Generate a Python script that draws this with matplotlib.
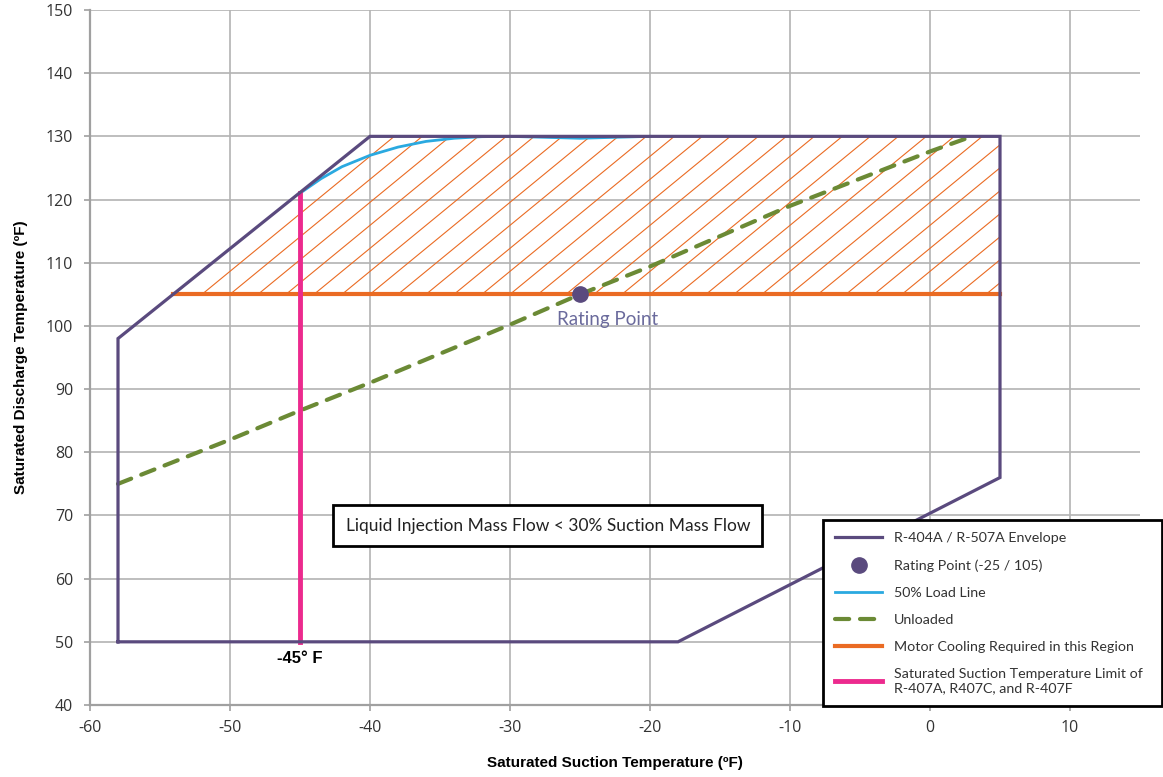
import numpy as np
import matplotlib
matplotlib.use('Agg')
from matplotlib import pyplot as plt
from matplotlib.patches import Polygon

plt.rcParams['axes.unicode_minus'] = False

# envelope of R-404A / R-507A (closed polygon)
env_x = [-58, -58, -40, 5, 5, -18, -58]
env_y = [50, 98, 130, 130, 76, 50, 50]

# rating point
rating_x, rating_y = -25, 105

# 50% load line
load_x = [-45, -43.5, -42, -40, -38, -36, -34, -32, -30, -25, -20]
load_y = [121, 123.3, 125.2, 127.0, 128.3, 129.2, 129.7, 129.95, 130, 129.7, 130]

# unloaded curve
unl_x = [-58, -50, -45, -40, -30, -25, -20, -10, 0, 3]
unl_y = [75, 82.0, 86.6, 91, 100.2, 105, 109.4, 119, 127.6, 130]

# motor cooling region lower bound and suction limit
motor_y = 105
limit_x = -45

xticks = [-60, -50, -40, -30, -20, -10, 0, 10]
yticks = [40, 50, 60, 70, 80, 90, 100, 110, 120, 130, 140, 150]

c_env = '#5a4a7e'
c_load = '#2aa9e0'
c_unl = '#6b8a35'
c_orange = '#ea6b23'
c_pink = '#ec2a8e'
c_grid = '#b3b3b3'

tick_font = 'Open Sans'
lab_font = 'Lato'

fig = plt.figure(figsize=(11.63, 7.77), dpi=100)
ax = fig.add_axes([90/1163, 1-705/777, 1050/1163, 695/777])
ax.set_xlim(-60, 15)
ax.set_ylim(40, 150)
ax.set_xticks(xticks)
ax.set_yticks(yticks)
ax.grid(True, color=c_grid, lw=1.2, zorder=0)
for s in ['top', 'right']:
    ax.spines[s].set_visible(False)
for s in ['left', 'bottom']:
    ax.spines[s].set_color('#a0a0a0')
    ax.spines[s].set_linewidth(1.6)
ax.tick_params(colors='#a0a0a0', length=4, width=1.2, labelcolor='#333333', labelsize=11.5)
ax.tick_params(axis='y', pad=8)
ax.tick_params(axis='x', pad=7)
for lab in ax.get_xticklabels() + ax.get_yticklabels():
    lab.set_family(tick_font)

# where the left diagonal of the envelope crosses the motor line / the suction limit
x_left = env_x[1] + (motor_y - env_y[1]) * (env_x[2] - env_x[1]) / (env_y[2] - env_y[1])
y_limit_top = env_y[1] + (limit_x - env_x[1]) * (env_y[2] - env_y[1]) / (env_x[2] - env_x[1])

# hatched motor cooling region
region = Polygon([(x_left, motor_y), (env_x[2], env_y[2]), (env_x[3], env_y[3]), (env_x[3], motor_y)],
                 closed=True, facecolor='none', edgecolor='none')
ax.add_patch(region)
slope = 1.82
for x0 in np.arange(-70, 10, 2.0):
    hl, = ax.plot([x0, x0 + 30], [motor_y, motor_y + 30 * slope], color=c_orange, lw=0.8, zorder=2)
    hl.set_clip_path(region)

ax.plot([x_left, env_x[3]], [motor_y, motor_y], color=c_orange, lw=3, zorder=3,
        label='Motor Cooling Required in this Region')

ax.plot(unl_x, unl_y, color=c_unl, lw=3, dashes=(3.4, 2.6), dash_capstyle='round', zorder=4,
        label='Unloaded')
ax.plot(load_x, load_y, color=c_load, lw=2, zorder=5, label='50% Load Line')
ax.plot([limit_x, limit_x], [env_y[0], y_limit_top], color=c_pink, lw=3.5, zorder=5,
        label='Saturated Suction Temperature Limit of\nR-407A, R407C, and R-407F')
ax.plot(env_x, env_y, color=c_env, lw=2.3, zorder=6, solid_joinstyle='miter',
        label='R-404A / R-507A Envelope')
ax.plot([rating_x], [rating_y], 'o', color=c_env, ms=11, zorder=7, lw=0,
        label='Rating Point (-25 / 105)')

ax.text(-23, 101, 'Rating Point', color='#6a6a9c', fontsize=13.5, family=lab_font,
        ha='center', va='center', zorder=8)
ax.text(limit_x, 47.3, '-45° F', fontsize=12, fontweight='bold', family='Liberation Sans',
        ha='center', va='center', zorder=8)
ax.text(-27.3, 68.4, 'Liquid Injection Mass Flow < 30% Suction Mass Flow', fontsize=12.5,
        family=lab_font, color='#222222', ha='center', va='center', zorder=8,
        bbox=dict(boxstyle='square,pad=0.7', fc='white', ec='black', lw=2))

ax.set_xlabel('Saturated Suction Temperature (ºF)', fontsize=11, fontweight='bold',
              family='Liberation Sans', labelpad=14)
ax.set_ylabel('Saturated Discharge Temperature (ºF)', fontsize=11, fontweight='bold',
              family='Liberation Sans', labelpad=13)

handles, labels = ax.get_legend_handles_labels()
order = ['R-404A / R-507A Envelope', 'Rating Point (-25 / 105)', '50% Load Line', 'Unloaded',
         'Motor Cooling Required in this Region',
         'Saturated Suction Temperature Limit of\nR-407A, R407C, and R-407F']
hmap = dict(zip(labels, handles))
leg = fig.legend([hmap[k] for k in order], order, loc='lower left',
                 bbox_to_anchor=(823/1163, 1-706/777, 339/1163, 190/777), mode='expand',
                 borderaxespad=0, fancybox=False, framealpha=1, edgecolor='black',
                 borderpad=0.85, handlelength=3.3, handletextpad=0.8, labelspacing=1.05,
                 prop={'family': lab_font, 'size': 10.3})
leg.get_frame().set_linewidth(2)
for t in leg.get_texts():
    t.set_color('#333333')

fig.savefig('out.png', dpi=100)
